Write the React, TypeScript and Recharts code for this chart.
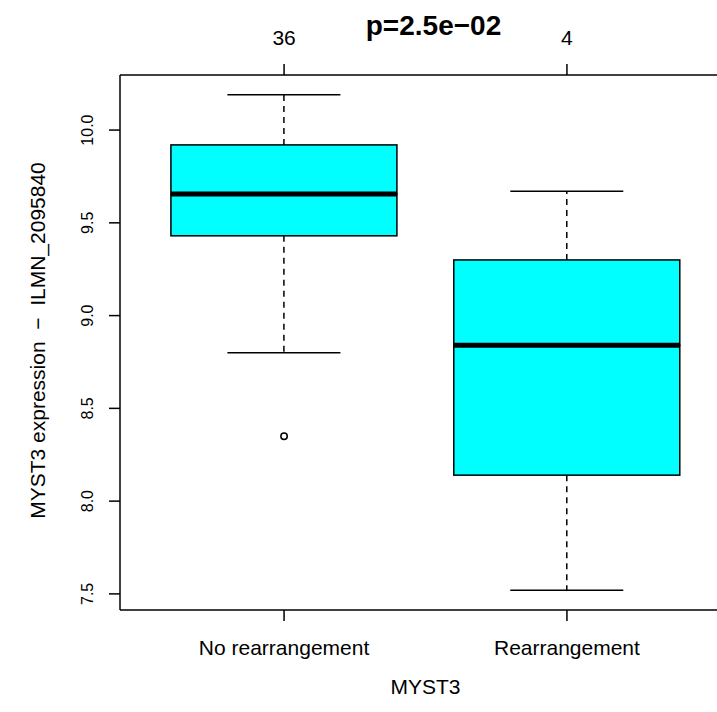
import { Bar, ComposedChart, Scatter, XAxis, YAxis } from 'recharts'

const GROUPS = ['No rearrangement', 'Rearrangement']
const COUNTS = [36, 4]
const LOWER = [8.8, 7.52]
const Q1 = [9.43, 8.14]
const MEDIAN = [9.655, 8.84]
const Q3 = [9.92, 9.3]
const UPPER = [10.19, 9.67]
const OUTLIER_GROUP = [0]
const OUTLIER_VALUE = [8.35]
const Y_TICKS = [7.5, 8, 8.5, 9, 9.5, 10]
const TITLE = 'p=2.5e\u221202'
const X_TITLE = 'MYST3'
const Y_TITLE = 'MYST3 expression  \u2212  ILMN_2095840'

const FONT = '"Liberation Sans", Arial, Helvetica, sans-serif'
const BOX_FILL = '#00ffff'

// stacked segments: transparent base, lower whisker, lower half box, upper half box, upper whisker
const rows = GROUPS.map((g, i) => ({
  pos: i + 1,
  name: g,
  base: LOWER[i],
  lowW: Q1[i] - LOWER[i],
  boxLo: MEDIAN[i] - Q1[i],
  boxHi: Q3[i] - MEDIAN[i],
  upW: UPPER[i] - Q3[i],
}))

const outliers = OUTLIER_GROUP.map((g, i) => ({ pos: g + 1, value: OUTLIER_VALUE[i] }))

// R style 4% padding on both axes
const yLo = Math.min(...LOWER, ...OUTLIER_VALUE)
const yHi = Math.max(...UPPER, ...OUTLIER_VALUE)
const yPad = (yHi - yLo) * 0.04
const Y_DOMAIN = [yLo - yPad, yHi + yPad]
const X_DOMAIN = [0.5 - GROUPS.length * 0.04, GROUPS.length + 0.5 + GROUPS.length * 0.04]

const LINE = { stroke: '#000', strokeWidth: 1.5 }

const norm = (p: any) => {
  const top = Math.min(p.y, p.y + p.height)
  const h = Math.abs(p.height)
  return { x: p.x, w: p.width, top, h }
}

const Empty = () => <g />

const LowWhisker = (p: any) => {
  const { x, w, top, h } = norm(p)
  const cx = x + w / 2
  return (
    <g>
      <line x1={cx} x2={cx} y1={top} y2={top + h} stroke="#000" strokeWidth={1.5} strokeDasharray="6 5" />
      <line x1={x + w / 4} x2={x + (3 * w) / 4} y1={top + h} y2={top + h} stroke="#000" strokeWidth={1.5} />
    </g>
  )
}

const UpWhisker = (p: any) => {
  const { x, w, top, h } = norm(p)
  const cx = x + w / 2
  return (
    <g>
      <line x1={cx} x2={cx} y1={top + h} y2={top} stroke="#000" strokeWidth={1.5} strokeDasharray="6 5" />
      <line x1={x + w / 4} x2={x + (3 * w) / 4} y1={top} y2={top} stroke="#000" strokeWidth={1.5} />
    </g>
  )
}

const BoxLo = (p: any) => {
  const { x, w, top, h } = norm(p)
  return <rect x={x} y={top} width={w} height={h} fill={BOX_FILL} stroke="#000" strokeWidth={1.5} />
}

const BoxHi = (p: any) => {
  const { x, w, top, h } = norm(p)
  return (
    <g>
      <rect x={x} y={top} width={w} height={h} fill={BOX_FILL} stroke="#000" strokeWidth={1.5} />
      <line x1={x} x2={x + w} y1={top + h} y2={top + h} stroke="#000" strokeWidth={5} />
    </g>
  )
}

const Outlier = (p: any) => (
  <circle cx={p.cx} cy={p.cy} r={3.2} fill="none" stroke="#000" strokeWidth={1.5} />
)

const BottomTick = (p: any) => (
  <text x={p.x} y={p.y} textAnchor="middle" dominantBaseline="central" fontSize={21} fontFamily={FONT} fill="#000">
    {GROUPS[p.payload.value - 1]}
  </text>
)

const TopTick = (p: any) => (
  <text x={p.x} y={p.y} textAnchor="middle" dominantBaseline="central" fontSize={21} fontFamily={FONT} fill="#000">
    {COUNTS[p.payload.value - 1]}
  </text>
)

const LeftTick = (p: any) => (
  <text
    x={p.x}
    y={p.y}
    transform={`rotate(-90, ${p.x}, ${p.y})`}
    textAnchor="middle"
    dominantBaseline="central"
    fontSize={16}
    fontFamily={FONT}
    fill="#000"
  >
    {Number(p.payload.value).toFixed(1)}
  </text>
)

export default function App() {
  return (
    <div
      style={{
        position: 'absolute',
        left: 0,
        top: 0,
        width: 717,
        height: 712,
        overflow: 'hidden',
        background: '#fff',
      }}
    >
      <ComposedChart width={760} height={712} data={rows} margin={{ top: 0, right: 29, bottom: 0, left: 0 }}>
        <XAxis
          xAxisId="bottom"
          dataKey="pos"
          type="number"
          domain={X_DOMAIN}
          ticks={[1, 2]}
          height={102}
          axisLine={LINE}
          tickLine={LINE}
          tickSize={11}
          tickMargin={26}
          tick={BottomTick}
          label={{
            content: (lp: any) => {
              const vb = lp.viewBox
              return (
                <text x={vb.x + vb.width / 2} y={686} textAnchor="middle" dominantBaseline="central" fontSize={21} fontFamily={FONT} fill="#000">
                  {X_TITLE}
                </text>
              )
            },
          }}
        />
        <XAxis
          xAxisId="top"
          orientation="top"
          dataKey="pos"
          type="number"
          domain={X_DOMAIN}
          ticks={[1, 2]}
          height={75}
          axisLine={LINE}
          tickLine={LINE}
          tickSize={11}
          tickMargin={27}
          tick={TopTick}
          label={{
            content: (lp: any) => {
              const vb = lp.viewBox
              return (
                <text x={vb.x + vb.width / 2 + 8} y={25} textAnchor="middle" dominantBaseline="central" fontSize={28} fontWeight="bold" fontFamily={FONT} fill="#000">
                  {TITLE}
                </text>
              )
            },
          }}
        />
        <YAxis
          type="number"
          domain={Y_DOMAIN}
          allowDataOverflow
          ticks={Y_TICKS}
          width={120}
          axisLine={LINE}
          tickLine={LINE}
          tickSize={11}
          tickMargin={21}
          tick={LeftTick}
          label={{
            content: (lp: any) => {
              const vb = lp.viewBox
              const cy = vb.y + vb.height / 2 - 2
              return (
                <text
                  x={37}
                  y={cy}
                  transform={`rotate(-90, 37, ${cy})`}
                  textAnchor="middle"
                  dominantBaseline="central"
                  fontSize={21}
                  fontFamily={FONT}
                  fill="#000"
                  style={{ whiteSpace: 'pre' }}
                >
                  {Y_TITLE}
                </text>
              )
            },
          }}
        />
        <Bar xAxisId="bottom" dataKey="base" stackId="box" shape={Empty} isAnimationActive={false} />
        <Bar xAxisId="bottom" dataKey="lowW" stackId="box" shape={LowWhisker} isAnimationActive={false} />
        <Bar xAxisId="bottom" dataKey="boxLo" stackId="box" shape={BoxLo} isAnimationActive={false} />
        <Bar xAxisId="bottom" dataKey="boxHi" stackId="box" shape={BoxHi} isAnimationActive={false} />
        <Bar xAxisId="bottom" dataKey="upW" stackId="box" shape={UpWhisker} isAnimationActive={false} />
        <Scatter xAxisId="bottom" data={outliers} dataKey="value" shape={Outlier} isAnimationActive={false} />
      </ComposedChart>
    </div>
  )
}
